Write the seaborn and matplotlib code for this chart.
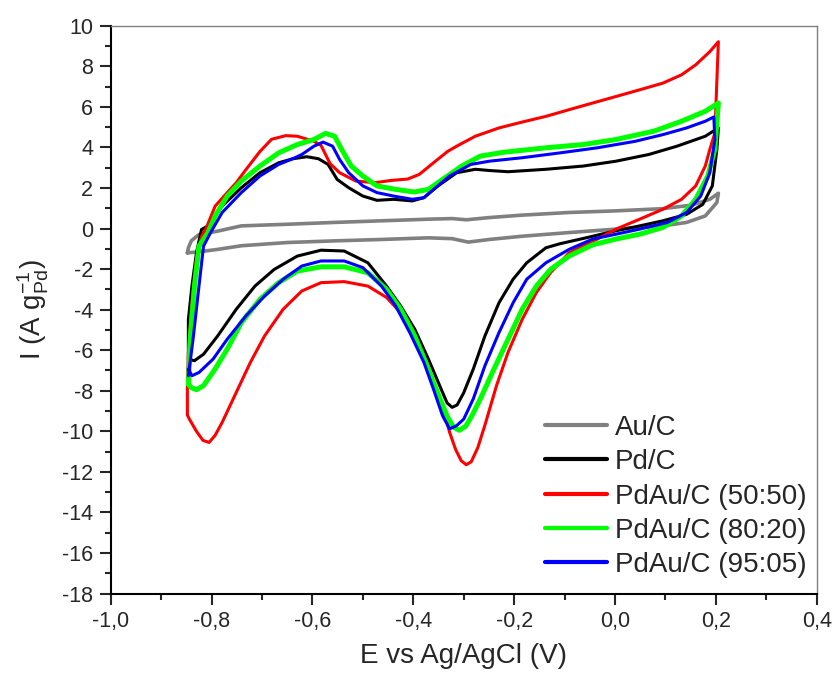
import seaborn as sns
import matplotlib
matplotlib.use("Agg")
import matplotlib.pyplot as plt
import pandas as pd
from matplotlib.ticker import MultipleLocator, FuncFormatter

# Cyclic voltammograms: anodic scan (-0.85 -> 0.2 V) followed by cathodic scan back
au_E = [-0.848, -0.846, -0.840, -0.825, -0.788, -0.741, -0.649, -0.556, -0.463, -0.370, -0.323,
        -0.295, -0.249, -0.184, -0.091, 0.002, 0.095, 0.151, 0.188, 0.205,
        0.202, 0.179, 0.142, 0.095, 0.002, -0.091, -0.184, -0.249, -0.291, -0.323,
        -0.370, -0.463, -0.556, -0.649, -0.741, -0.788, -0.825, -0.848]
au_I = [-1.2, -0.95, -0.6, -0.3, -0.13, 0.13, 0.21, 0.30, 0.38, 0.46, 0.49,
        0.43, 0.54, 0.66, 0.79, 0.87, 0.98, 1.15, 1.44, 1.74,
        1.28, 0.62, 0.30, 0.13, -0.03, -0.20, -0.38, -0.54, -0.67, -0.50,
        -0.46, -0.54, -0.61, -0.69, -0.85, -1.03, -1.15, -1.2]

pd_E = [-0.846, -0.846, -0.839, -0.830, -0.820, -0.807, -0.779, -0.741, -0.704, -0.667,
        -0.639, -0.611, -0.588, -0.569, -0.551, -0.528, -0.500, -0.472, -0.439, -0.402,
        -0.379, -0.351, -0.314, -0.277, -0.249, -0.212, -0.137, -0.063, 0.002, 0.067,
        0.123, 0.179, 0.205,
        0.202, 0.193, 0.174, 0.142, 0.095, 0.049, 0.002, -0.054, -0.109, -0.137,
        -0.175, -0.202, -0.230, -0.258, -0.281, -0.300, -0.313, -0.323, -0.333, -0.342,
        -0.370, -0.397, -0.425, -0.453, -0.490, -0.537, -0.583, -0.630, -0.676, -0.714,
        -0.751, -0.788, -0.816, -0.834, -0.846]
pd_I = [-6.44, -4.48, -2.84, -1.2, -0.05, 0.13, 1.11, 2.01, 2.75, 3.24,
        3.44, 3.54, 3.44, 3.16, 2.42, 2.01, 1.6, 1.39, 1.44, 1.36,
        1.52, 2.1, 2.75, 2.92, 2.86, 2.8, 2.92, 3.08, 3.32, 3.65,
        4.06, 4.55, 4.96,
        3.9, 2.1, 1.19, 0.7, 0.38, 0.13, -0.11, -0.44, -0.75, -0.95,
        -1.69, -2.5, -3.66, -5.3, -6.93, -8.1, -8.7, -8.82, -8.6, -8.08,
        -6.44, -4.97, -3.82, -2.84, -1.69, -1.11, -1.07, -1.36, -2.02, -2.84,
        -3.98, -5.3, -6.2, -6.52, -6.44]

r50_E = [-0.848, -0.848, -0.846, -0.839, -0.830, -0.820, -0.811, -0.793, -0.769, -0.751,
         -0.732, -0.704, -0.681, -0.653, -0.630, -0.597, -0.583, -0.565, -0.546, -0.514,
         -0.476, -0.444, -0.411, -0.388, -0.360, -0.332, -0.314, -0.277, -0.230, -0.184,
         -0.137, -0.091, -0.044, 0.002, 0.049, 0.095, 0.132, 0.160, 0.188, 0.205,
         0.198, 0.188, 0.179, 0.160, 0.132, 0.095, 0.049, 0.002, -0.035, -0.091,
         -0.128, -0.156, -0.184, -0.212, -0.235, -0.258, -0.272, -0.285, -0.295, -0.305,
         -0.316, -0.328, -0.342, -0.370, -0.397, -0.425, -0.453, -0.490, -0.537, -0.583,
         -0.621, -0.658, -0.695, -0.723, -0.751, -0.779, -0.793, -0.805, -0.817, -0.830,
         -0.844, -0.848]
r50_I = [-9.15, -7.75, -6.1, -3.66, -1.5, -0.4, 0.0, 1.1, 1.77, 2.26,
         2.9, 3.8, 4.4, 4.58, 4.55, 4.3, 4.1, 3.2, 2.75, 2.34,
         2.26, 2.37, 2.44, 2.67, 3.24, 3.8, 4.06, 4.55, 4.96, 5.25,
         5.53, 5.86, 6.19, 6.51, 6.84, 7.17, 7.58, 8.07, 8.72, 9.21,
         4.7, 3.9, 3.08, 2.1, 1.44, 0.95, 0.46, -0.03, -0.52, -1.2,
         -2.18, -3.16, -4.48, -6.1, -7.75, -9.7, -10.8, -11.5, -11.65, -11.45,
         -10.9, -10.05, -8.74, -6.9, -5.3, -4.15, -3.4, -2.84, -2.62, -2.67,
         -3.08, -3.98, -5.3, -6.6, -8.08, -9.56, -10.2, -10.55, -10.45, -10.0,
         -9.4, -9.2]

r80_E = [-0.846, -0.842, -0.834, -0.825, -0.807, -0.793, -0.769, -0.741, -0.704, -0.667,
         -0.630, -0.597, -0.574, -0.556, -0.542, -0.523, -0.500, -0.472, -0.435, -0.398,
         -0.370, -0.342, -0.304, -0.267, -0.221, -0.137, -0.063, 0.002, 0.077, 0.132,
         0.179, 0.205,
         0.198, 0.184, 0.160, 0.132, 0.095, 0.049, 0.002, -0.044, -0.091, -0.128,
         -0.156, -0.184, -0.212, -0.240, -0.267, -0.283, -0.296, -0.309, -0.320, -0.332,
         -0.347, -0.370, -0.397, -0.425, -0.453, -0.490, -0.537, -0.583, -0.630, -0.667,
         -0.704, -0.741, -0.769, -0.793, -0.816, -0.830, -0.840, -0.846]
r80_I = [-7.67, -5.3, -2.84, -0.87, -0.2, 0.62, 1.6, 2.34, 3.08, 3.73,
         4.14, 4.39, 4.69, 4.55, 3.9, 3.08, 2.59, 2.1, 1.93, 1.8,
         1.93, 2.42, 3.08, 3.57, 3.76, 3.98, 4.14, 4.39, 4.8, 5.29,
         5.78, 6.19,
         3.9, 2.59, 1.44, 0.62, 0.05, -0.28, -0.52, -0.8, -1.36, -2.02,
         -2.84, -3.98, -5.46, -6.93, -8.4, -9.2, -9.75, -9.95, -9.8, -9.3,
         -8.4, -6.93, -5.3, -3.98, -3.0, -2.18, -1.89, -1.89, -2.1, -2.67,
         -3.49, -4.64, -5.95, -6.93, -7.75, -7.95, -7.85, -7.67]

r95_E = [-0.846, -0.836, -0.825, -0.816, -0.802, -0.779, -0.741, -0.704, -0.667, -0.639,
         -0.621, -0.597, -0.579, -0.560, -0.546, -0.528, -0.500, -0.472, -0.439, -0.402,
         -0.379, -0.356, -0.328, -0.286, -0.249, -0.184, -0.109, -0.035, 0.040, 0.095,
         0.142, 0.179, 0.196,
         0.198, 0.188, 0.170, 0.142, 0.104, 0.049, 0.002, -0.044, -0.091, -0.137,
         -0.175, -0.202, -0.230, -0.258, -0.281, -0.300, -0.314, -0.328, -0.342, -0.360,
         -0.379, -0.407, -0.435, -0.463, -0.500, -0.537, -0.583, -0.621, -0.658, -0.695,
         -0.732, -0.769, -0.797, -0.825, -0.839, -0.846]
r95_I = [-7.26, -5.3, -2.84, -0.87, -0.2, 0.79, 1.77, 2.59, 3.16, 3.44,
         3.65, 4.06, 4.26, 4.06, 3.4, 2.75, 2.1, 1.77, 1.6, 1.44,
         1.52, 2.01, 2.59, 3.16, 3.32, 3.49, 3.73, 3.98, 4.3, 4.63,
         4.96, 5.29, 5.5,
         4.39, 2.75, 1.6, 0.79, 0.3, -0.03, -0.28, -0.52, -1.03, -1.69,
         -2.5, -3.66, -5.13, -6.77, -8.4, -9.4, -9.72, -9.88, -9.23, -7.92,
         -6.6, -5.13, -3.82, -2.84, -1.93, -1.6, -1.6, -1.85, -2.5, -3.33,
         -4.31, -5.46, -6.44, -7.1, -7.26, -6.93]

labels = ["Au/C", "Pd/C", "PdAu/C (50:50)", "PdAu/C (80:20)", "PdAu/C (95:05)"]
colors = ["#808080", "#000000", "#ff0000", "#00ff00", "#0000ff"]
widths = [2.6, 2.2, 2.2, 3.6, 2.2]
series = [(au_E, au_I), (pd_E, pd_I), (r50_E, r50_I), (r80_E, r80_I), (r95_E, r95_I)]

sns.set_style("ticks")
plt.rcParams["font.family"] = ["Liberation Sans", "DejaVu Sans"]
plt.rcParams["mathtext.fontset"] = "custom"
plt.rcParams["mathtext.rm"] = "Liberation Sans"
plt.rcParams["mathtext.it"] = "Liberation Sans:italic"
plt.rcParams["axes.unicode_minus"] = False

fig = plt.figure(figsize=(8.35, 6.75), dpi=100)
ax = fig.add_axes([0.1326, 0.1207, 0.8455, 0.8412])

for (E, I), lab, c, lw in zip(series, labels, colors, widths):
    df = pd.DataFrame({"E": E, "I": I})
    sns.lineplot(data=df, x="E", y="I", sort=False, estimator=None,
                 color=c, linewidth=lw, label=lab, ax=ax,
                 solid_joinstyle="round", solid_capstyle="round")

ax.set_xlim(-1.0, 0.4)
ax.set_ylim(-18, 10)
ax.xaxis.set_major_locator(MultipleLocator(0.2))
ax.xaxis.set_minor_locator(MultipleLocator(0.1))
ax.yaxis.set_major_locator(MultipleLocator(2))
ax.yaxis.set_minor_locator(MultipleLocator(1))
ax.xaxis.set_major_formatter(FuncFormatter(lambda v, p: f"{v:.1f}".replace(".", ",")))
ax.yaxis.set_major_formatter(FuncFormatter(lambda v, p: f"{v:.0f}"))
ax.tick_params(which="major", direction="out", length=8, width=1.5, labelsize=15.5,
               pad=4.5, top=False, right=False)
ax.tick_params(which="minor", direction="out", length=4, width=1.5, top=False, right=False)
for s in ["left", "bottom"]:
    ax.spines[s].set_linewidth(1.5)
    ax.spines[s].set_color("black")
for s in ["top", "right"]:
    ax.spines[s].set_linewidth(1.0)
    ax.spines[s].set_color("#808080")

ax.set_xlabel("E vs Ag/AgCl (V)", fontsize=20, labelpad=8)
ax.set_ylabel(r"I (A g$_{\mathregular{Pd}}^{\mathregular{-1}}$)", fontsize=20, labelpad=8)

leg = ax.legend(loc="lower right", bbox_to_anchor=(0.986, 0.027), frameon=False,
                fontsize=20, handlelength=2.23, handletextpad=0.3, labelspacing=0.3,
                borderpad=0, borderaxespad=0)
for h in leg.get_lines():
    h.set_linewidth(3.0)

fig.savefig("out.png", dpi=100)
